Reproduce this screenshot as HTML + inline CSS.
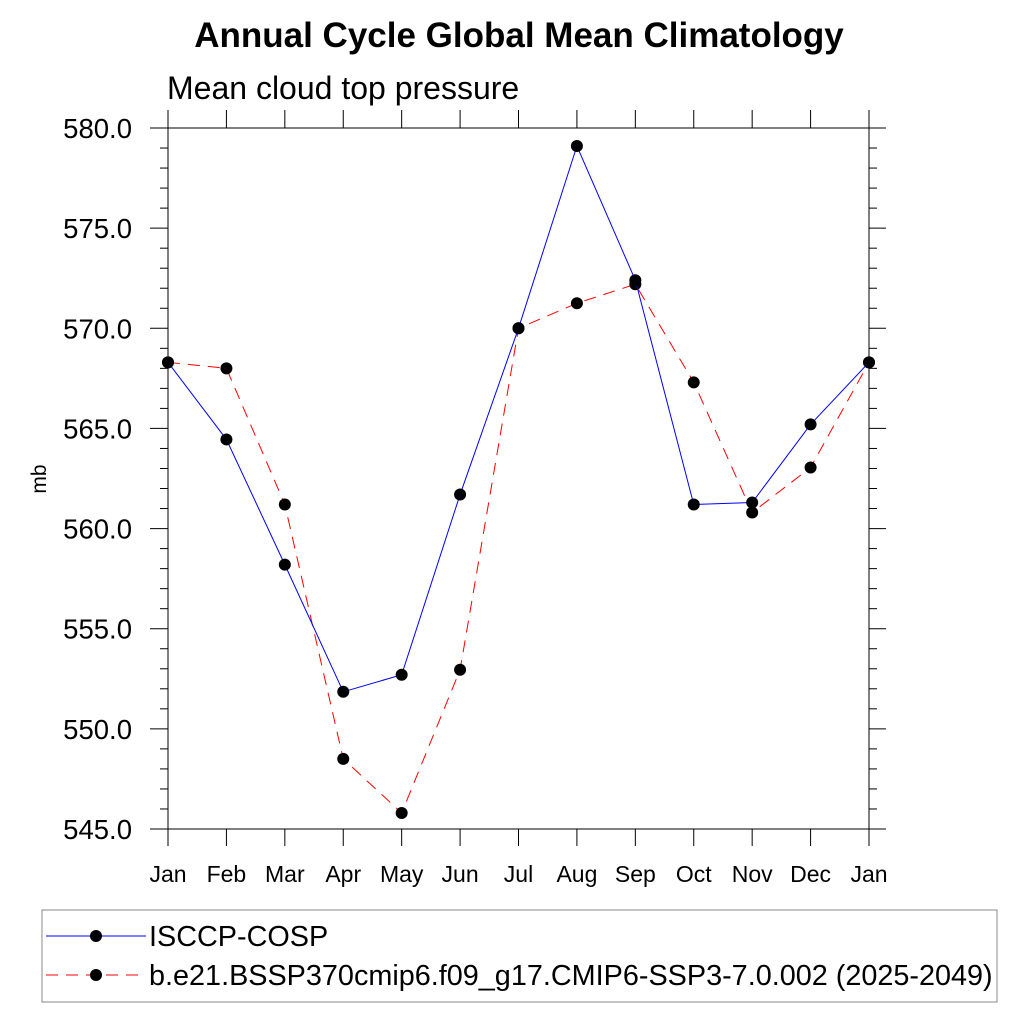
<!DOCTYPE html>
<html><head><meta charset="utf-8"><style>body{margin:0;background:#fff}svg{display:block;font-family:"Liberation Sans",sans-serif}</style></head>
<body>
<svg id="chart" width="1024" height="1024" viewBox="0 0 1024 1024">
<text x="519" y="47" text-anchor="middle" font-size="35" font-weight="bold">Annual Cycle Global Mean Climatology</text>
<text x="167" y="99" font-size="32">Mean cloud top pressure</text>
<text transform="translate(46,479) rotate(-90)" text-anchor="middle" font-size="21">mb</text>
<g id="axes"></g><g id="series"></g>
<g>
<rect x="42" y="910" width="955" height="92" fill="#fff" stroke="#888" stroke-width="1"/>
<line x1="46" y1="936" x2="146" y2="936" stroke="#00f" stroke-width="1"/>
<circle cx="96" cy="936" r="6" fill="#000"/>
<text x="149" y="946" font-size="28.8">ISCCP-COSP</text>
<line x1="46" y1="975" x2="146" y2="975" stroke="#f00" stroke-width="1" stroke-dasharray="12,8"/>
<circle cx="96" cy="975" r="6" fill="#000"/>
<text x="149" y="985" font-size="28.8">b.e21.BSSP370cmip6.f09_g17.CMIP6-SSP3-7.0.002 (2025-2049)</text>
</g>
</svg>
<script>
const months=["Jan","Feb","Mar","Apr","May","Jun","Jul","Aug","Sep","Oct","Nov","Dec","Jan"];
const yTicks=[545,550,555,560,565,570,575,580];
const isccp=[568.3,564.45,558.2,551.85,552.7,561.7,570.0,579.1,572.4,561.2,561.3,565.2,568.3];
const model=[568.3,568.0,561.2,548.5,545.8,552.95,570.0,571.25,572.2,567.3,560.8,563.05,568.3];
const L=168,R=869,T=128,B=829,NS="http://www.w3.org/2000/svg";
const xs=i=>L+i*(R-L)/12, ys=v=>T+(580-v)*(B-T)/35;
function mk(tag,attrs,parent){const e=document.createElementNS(NS,tag);for(const k in attrs)e.setAttribute(k,attrs[k]);parent.appendChild(e);return e;}
const ax=document.getElementById('axes');
mk('rect',{x:L,y:T,width:R-L,height:B-T,fill:'none',stroke:'#000','stroke-width':1},ax);
months.forEach((m,i)=>{const x=xs(i);
mk('line',{x1:x,y1:T-18,x2:x,y2:T,stroke:'#000'},ax);
mk('line',{x1:x,y1:B,x2:x,y2:B+17,stroke:'#000'},ax);
const t=mk('text',{x:x,y:882,'text-anchor':'middle','font-size':23},ax);t.textContent=m;

});
for(let v=545;v<=580;v++){const y=ys(v),maj=v%5==0;
mk('line',{x1:L-(maj?18:8),y1:y,x2:L,y2:y,stroke:'#000'},ax);
mk('line',{x1:R,y1:y,x2:R+(maj?17:8),y2:y,stroke:'#000'},ax);}
yTicks.forEach(v=>{const t=mk('text',{x:132,y:ys(v)+10,'text-anchor':'end','font-size':27.5},ax);t.textContent=v.toFixed(1);

});
const sg=document.getElementById('series');
function draw(arr,col,dash,name){
const p=mk('polyline',{points:arr.map((v,i)=>xs(i)+','+ys(v)).join(' '),fill:'none',stroke:col,'stroke-width':1,'stroke-dasharray':dash},sg);


arr.forEach((v,i)=>{const c=mk('circle',{cx:xs(i),cy:ys(v),r:6,fill:'#000'},sg);

});}
draw(model,'#f00','12,8','model');
draw(isccp,'#00f','none','isccp');
</script>
</body></html>
